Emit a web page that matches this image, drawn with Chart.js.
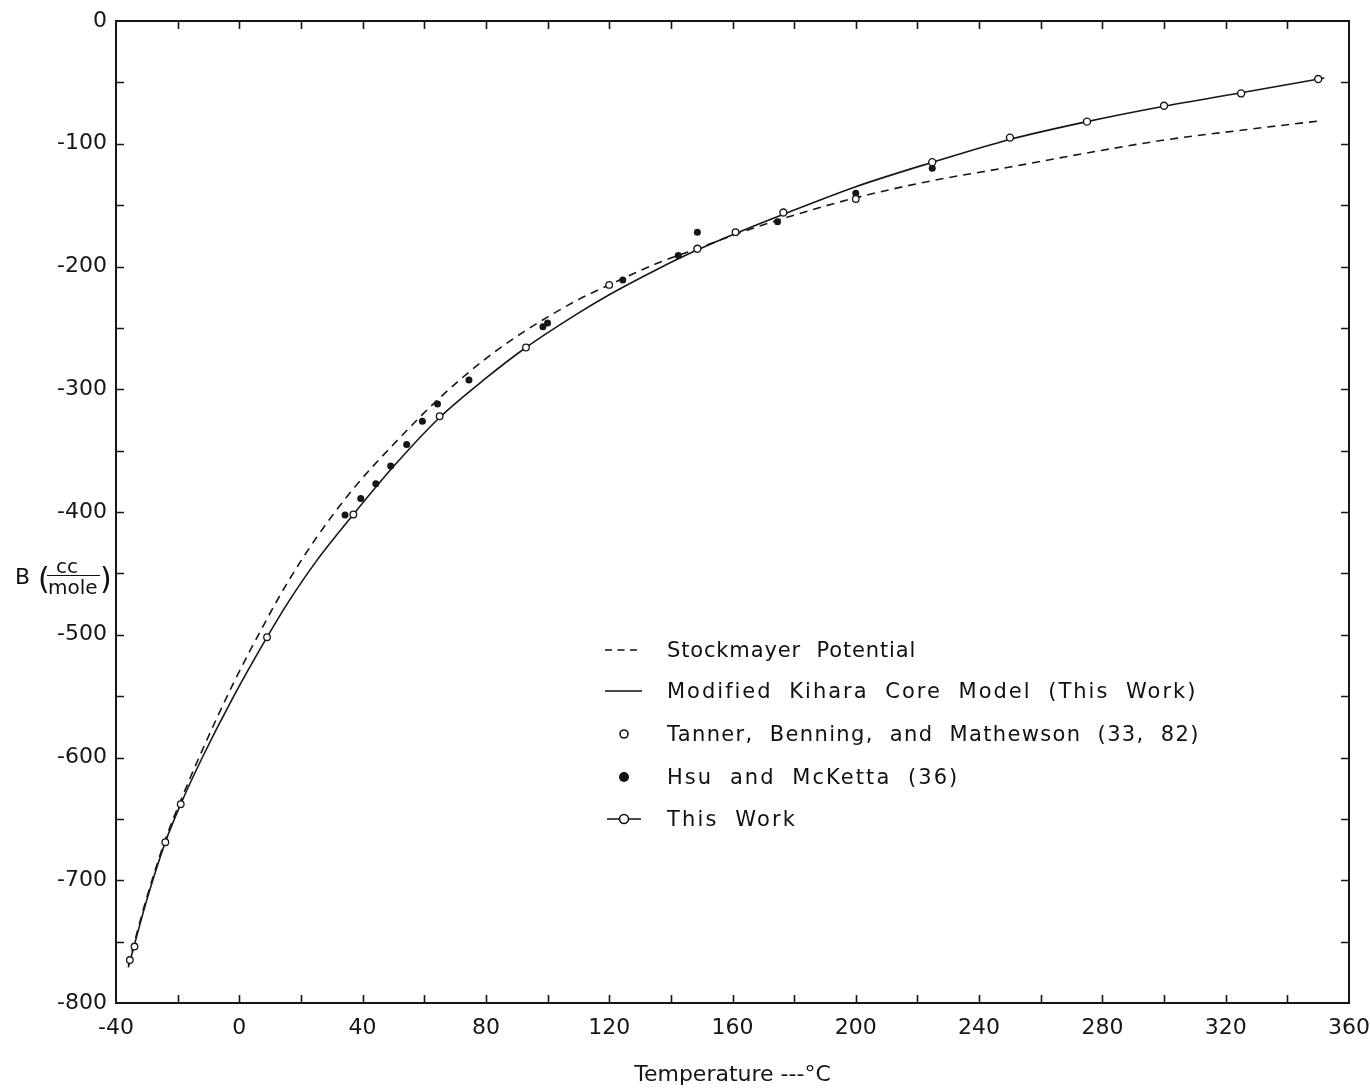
<!DOCTYPE html>
<html>
<head>
<meta charset="utf-8">
<script src="https://cdn.jsdelivr.net/npm/chart.js@4.4.1/dist/chart.umd.min.js"></script>
<style>
  html, body { margin: 0; padding: 0; background: #fff; }
  #wrap { position: relative; width: 1370px; height: 1091px; overflow: hidden; }
  #c { position: absolute; left: 0; top: 0; }
  .t { position: absolute; font-family: "DejaVu Sans", sans-serif; color: #111; line-height: 1; white-space: nowrap; }
  .leg { font-size: 21px; letter-spacing: 1.6px; word-spacing: 8px; }
  #legsym { position: absolute; left: 595px; top: 630px; }
</style>
</head>
<body>
<div id="wrap">
  <canvas id="c" width="1370" height="1091"></canvas>

  <!-- y-axis title: B (cc / mole) -->
  <span class="t" style="left:15px; top:566px; font-size:22px;">B</span>
  <span class="t" style="left:38px; top:564px; font-size:30px;">(</span>
  <span class="t" style="left:56px; top:556px; font-size:20px;">cc</span>
  <div style="position:absolute; left:47px; top:575px; width:53px; height:1.4px; background:#111;"></div>
  <span class="t" style="left:48px; top:577px; font-size:20px;">mole</span>
  <span class="t" style="left:100px; top:564px; font-size:30px;">)</span>

  <!-- legend -->
  <svg id="legsym" width="60" height="210" viewBox="0 0 60 210">
    <line x1="10" y1="20" x2="46" y2="20" stroke="#111" stroke-width="1.6" stroke-dasharray="7 5.5"/>
    <line x1="10" y1="61" x2="47" y2="61" stroke="#111" stroke-width="1.6"/>
    <circle cx="29" cy="104" r="4" fill="#fff" stroke="#111" stroke-width="1.6"/>
    <circle cx="29" cy="147" r="5" fill="#111"/>
    <line x1="12" y1="189" x2="46" y2="189" stroke="#111" stroke-width="1.6"/>
    <circle cx="29" cy="189" r="4.5" fill="#fff" stroke="#111" stroke-width="1.6"/>
  </svg>
  <span class="t leg" style="left:667px; top:640px; letter-spacing:0.85px;">Stockmayer Potential</span>
  <span class="t leg" style="left:667px; top:681px; letter-spacing:2.0px;">Modified Kihara Core Model (This Work)</span>
  <span class="t leg" style="left:667px; top:724px; letter-spacing:1.37px;">Tanner, Benning, and Mathewson (33, 82)</span>
  <span class="t leg" style="left:667px; top:767px; letter-spacing:2.05px;">Hsu and McKetta (36)</span>
  <span class="t leg" style="left:667px; top:809px; letter-spacing:2.15px;">This Work</span>
</div>

<script>
// ---------------- data ----------------
const xTickValues = [-40,-20,0,20,40,60,80,100,120,140,160,180,200,220,240,260,280,300,320,340,360];
const xTickLabels = [-40,0,40,80,120,160,200,240,280,320,360];
const yTickValues = [0,-50,-100,-150,-200,-250,-300,-350,-400,-450,-500,-550,-600,-650,-700,-750,-800];
const yTickLabels = [0,-100,-200,-300,-400,-500,-600,-700,-800];

// Stockmayer potential (dashed)
const stockT = [-36,-30,-24,-19,-12,-2,9,16,25,37,50,65,80,93,110,120,135,149,163,177,200,225,250,275,300,325,350];
const stockB = [-769,-714,-667,-635,-594,-540,-487,-456,-421,-381,-345,-307,-275,-252,-227,-215,-198,-185,-172,-160.5,-144,-130,-119,-107.5,-97,-89,-81.5];

// Modified Kihara core model (solid)
const kiharaT = [-36,-30,-24,-19,-12,-2,9,16,25,37,50,65,80,93,110,120,135,149,163,177,200,225,250,275,300,325,352];
const kiharaB = [-771,-716,-669,-638,-600,-551,-502,-473,-440,-402,-363,-323,-291,-266,-238,-223,-203,-186,-171,-157,-135,-115,-96.5,-82,-69.5,-58.5,-46.5];

// Tanner, Benning, and Mathewson (open circles)
const tannerT = [-35.5,-34,-24,-19,9,37,65,93,120,161,200];
const tannerB = [-765,-754,-669,-638,-502,-402,-322,-266,-215,-172,-145];

// Hsu and McKetta (filled circles)
const hsuT = [34.3,39.4,44.3,49.1,54.3,59.4,64.3,74.5,98.5,100,124.4,142.4,148.6,174.6,200,224.8];
const hsuB = [-402.5,-389,-377,-362.5,-345,-326,-312,-292.5,-249,-246,-211,-191,-172,-163.5,-140.4,-120];

// This Work (open circles on the curve)
const thisT = [148.6,176.5,224.8,250,275,300,325,350];
const thisB = [-185.5,-156,-115,-95,-82,-69,-59,-47.3];

// ---------------- chart ----------------
const pts = (xs, ys) => xs.map((v, i) => ({ x: v, y: ys[i] }));
const INK = '#161616';
const FONT = '"DejaVu Sans", sans-serif';

const frameTicks = {
  id: 'frameTicks',
  afterDatasetsDraw(chart) {
    const { ctx, chartArea: a, scales: { x, y } } = chart;
    const L = 8;
    ctx.save();
    ctx.strokeStyle = INK;
    ctx.lineWidth = 1.6;
    ctx.beginPath();
    xTickValues.forEach(v => {
      if (v === x.min || v === x.max) return;
      const px = Math.round(x.getPixelForValue(v)) + 0.5;
      ctx.moveTo(px, a.bottom); ctx.lineTo(px, a.bottom - L);
      ctx.moveTo(px, a.top); ctx.lineTo(px, a.top + L);
    });
    yTickValues.forEach(v => {
      if (v === y.min || v === y.max) return;
      const py = Math.round(y.getPixelForValue(v)) + 0.5;
      ctx.moveTo(a.left, py); ctx.lineTo(a.left + L, py);
      ctx.moveTo(a.right, py); ctx.lineTo(a.right - L, py);
    });
    ctx.stroke();
    ctx.lineWidth = 2;
    ctx.strokeRect(a.left, a.top, a.right - a.left, a.bottom - a.top);
    ctx.restore();
  }
};

new Chart(document.getElementById('c'), {
  type: 'scatter',
  data: {
    datasets: [
      { label: 'This Work', data: pts(thisT, thisB), pointRadius: 3.5, pointBorderWidth: 1.4,
        pointBackgroundColor: '#fff', pointBorderColor: INK, showLine: false, order: 1 },
      { label: 'Tanner, Benning, and Mathewson (33, 82)', data: pts(tannerT, tannerB), pointRadius: 3.3, pointBorderWidth: 1.3,
        pointBackgroundColor: '#fff', pointBorderColor: INK, showLine: false, order: 1 },
      { label: 'Hsu and McKetta (36)', data: pts(hsuT, hsuB), pointRadius: 3.5, pointBorderWidth: 0,
        pointBackgroundColor: INK, pointBorderColor: INK, showLine: false, order: 1 },
      { label: 'Modified Kihara Core Model (This Work)', data: pts(kiharaT, kiharaB), showLine: true,
        borderColor: INK, borderWidth: 1.6, pointRadius: 0, cubicInterpolationMode: 'monotone', order: 2 },
      { label: 'Stockmayer Potential', data: pts(stockT, stockB), showLine: true,
        borderColor: INK, borderWidth: 1.6, borderDash: [8, 6], pointRadius: 0, cubicInterpolationMode: 'monotone', order: 3 }
    ]
  },
  options: {
    responsive: false,
    devicePixelRatio: 1,
    animation: false,
    layout: { padding: { top: 21, right: 21, left: 0, bottom: 0 } },
    plugins: { legend: { display: false }, tooltip: { enabled: false } },
    scales: {
      x: {
        type: 'linear', min: -40, max: 360,
        afterBuildTicks: s => { s.ticks = xTickValues.map(v => ({ value: v })); },
        afterFit: s => { s.height = 88; s.paddingLeft = 0; s.paddingRight = 0; },
        grid: { display: false, drawTicks: false },
        border: { display: false },
        ticks: {
          autoSkip: false, maxRotation: 0, padding: 12, color: INK,
          font: { family: FONT, size: 22 },
          callback: v => xTickLabels.includes(v) ? String(v) : ''
        },
        title: { display: true, text: 'Temperature ---°C', color: INK,
          font: { family: FONT, size: 22 }, padding: { top: 0, bottom: 3 } }
      },
      y: {
        type: 'linear', min: -800, max: 0,
        afterBuildTicks: s => { s.ticks = yTickValues.map(v => ({ value: v })); },
        afterFit: s => { s.width = 116; s.paddingTop = 0; s.paddingBottom = 0; },
        grid: { display: false, drawTicks: false },
        border: { display: false },
        ticks: {
          autoSkip: false, padding: 9, color: INK,
          font: { family: FONT, size: 22 },
          callback: v => yTickLabels.includes(v) ? String(v) : ''
        }
      }
    }
  },
  plugins: [frameTicks]
});
</script>
</body>
</html>
